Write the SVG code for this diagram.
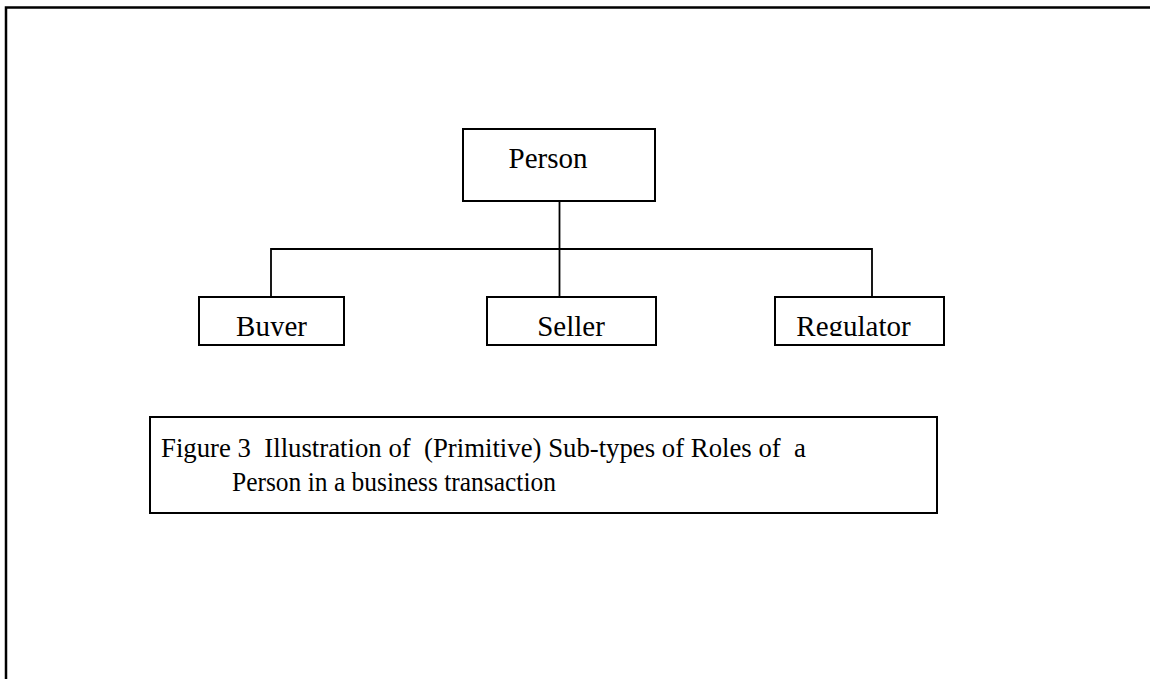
<svg xmlns="http://www.w3.org/2000/svg" width="1150" height="679" viewBox="0 0 1150 679">
  <style>
    .box { fill: #fff; stroke: #000; stroke-width: 2; }
    .frame { fill: none; stroke: #000; stroke-width: 2.5; }
    .link { fill: none; stroke: #000; stroke-width: 1.8; }
    .lbl { font-family: "Liberation Serif", "Times New Roman", serif; font-size: 29px; fill: #000; text-anchor: middle; }
    .cap { font-family: "Liberation Serif", "Times New Roman", serif; font-size: 27px; fill: #000; white-space: pre; }
  </style>
  <defs>
    <!-- child labels are cut off just below their baseline -->
    <clipPath id="childClip">
      <rect x="0" y="0" width="1150" height="336"/>
    </clipPath>
  </defs>

  <rect width="1150" height="679" fill="#fff"/>

  <!-- page frame: top and left edges -->
  <path class="frame" d="M6 679 V7.5 H1150"/>

  <!-- connectors -->
  <g id="connectors">
    <path class="link" d="M559.5 200 V297"/>
    <path class="link" d="M271 297 V249 H872 V297"/>
  </g>

  <g id="person">
    <rect class="box" x="463" y="129" width="192" height="72"/>
    <text class="lbl" x="548" y="168">Person</text>
  </g>

  <g id="buyer">
    <rect class="box" x="199" y="297" width="145" height="48"/>
    <text class="lbl" x="271.5" y="335.5" clip-path="url(#childClip)">Buyer</text>
  </g>

  <g id="seller">
    <rect class="box" x="487" y="297" width="169" height="48"/>
    <text class="lbl" x="571" y="335.5" clip-path="url(#childClip)">Seller</text>
  </g>

  <g id="regulator">
    <rect class="box" x="775" y="297" width="169" height="48"/>
    <text class="lbl" x="853.5" y="335.5" clip-path="url(#childClip)">Regulator</text>
  </g>

  <g id="caption">
    <rect class="box" x="150" y="417" width="787" height="96"/>
    <text class="cap" x="161" y="457" textLength="645" lengthAdjust="spacingAndGlyphs">Figure 3  Illustration of  (Primitive) Sub-types of Roles of  a</text>
    <text class="cap" x="232" y="491" textLength="324" lengthAdjust="spacingAndGlyphs">Person in a business transaction</text>
  </g>
</svg>
